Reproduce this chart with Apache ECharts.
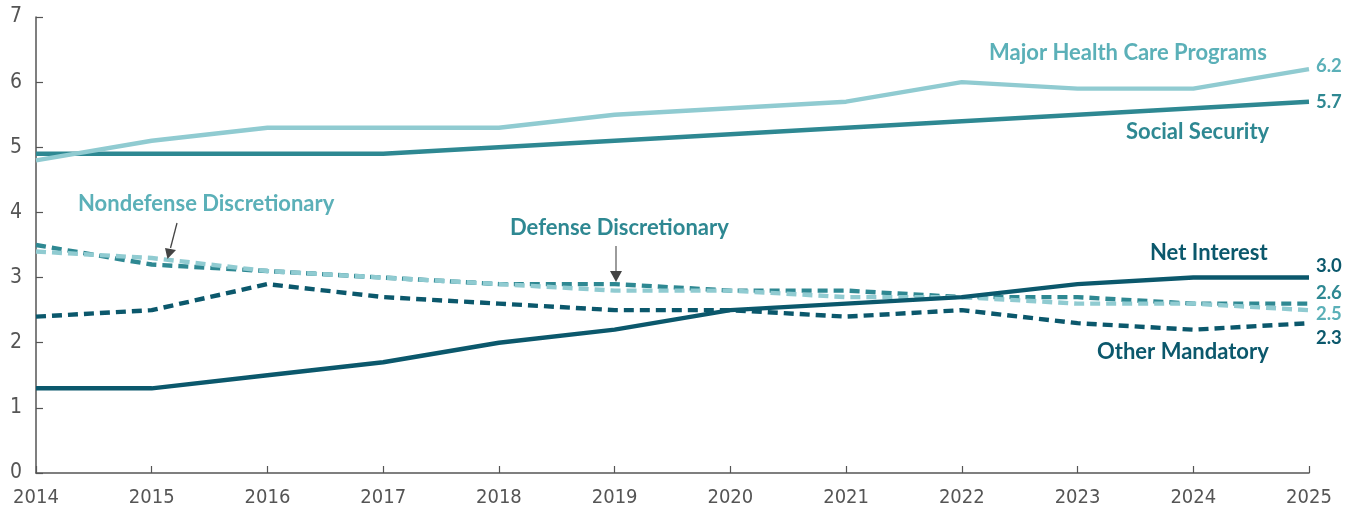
<!DOCTYPE html>
<html><head><meta charset="utf-8">
<script src="https://cdn.jsdelivr.net/npm/echarts@6/dist/echarts.min.js"></script>
<style>html,body{margin:0;padding:0;background:#fff}#c{width:1353px;height:512px}</style>
</head><body><div id="c"></div>
<script>
const years = ['2014','2015','2016','2017','2018','2019','2020','2021','2022','2023','2024','2025'];
const yTicks = [0,1,2,3,4,5,6,7];
const majorHealth = [4.8,5.1,5.3,5.3,5.3,5.5,5.6,5.7,6.0,5.9,5.9,6.2];
const socialSecurity = [4.9,4.9,4.9,4.9,5.0,5.1,5.2,5.3,5.4,5.5,5.6,5.7];
const netInterest = [1.3,1.3,1.5,1.7,2.0,2.2,2.5,2.6,2.7,2.9,3.0,3.0];
const otherMandatory = [2.4,2.5,2.9,2.7,2.6,2.5,2.5,2.4,2.5,2.3,2.2,2.3];
const defenseDisc = [3.5,3.2,3.1,3.0,2.9,2.9,2.8,2.8,2.7,2.7,2.6,2.6];
const nondefenseDisc = [3.4,3.3,3.1,3.0,2.9,2.8,2.8,2.7,2.7,2.6,2.6,2.5];

const C_LIGHT = '#90cbd1', C_LIGHT_TXT = '#5bb0b8', C_MID = '#2e8892', C_DARK = '#0b586c';
const LBL_FONT = 'Lato, "Open Sans", sans-serif';
const AX_FONT = '"Liberation Sans Narrow", "DejaVu Sans Condensed", sans-serif';

function mk(name, data, color, dashed, lblColor, offY, z) {
  return {
    name, type: 'line', data, symbol: 'none', z: z,
    lineStyle: { color, width: 4.4, type: dashed ? [10, 6] : 'solid', cap: 'butt' },
    endLabel: {
      show: true, formatter: p => Number(p.value).toFixed(1),
      color: lblColor, fontWeight: 'bold', fontSize: 18.5, fontFamily: LBL_FONT,
      distance: 7, offset: [0, offY]
    },
    emphasis: { disabled: true }, silent: true, animation: false
  };
}

const chart = echarts.init(document.getElementById('c'));
chart.setOption({
  animation: false,
  grid: { left: 36, right: 44, top: 17, bottom: 39, containLabel: false },
  xAxis: {
    type: 'category', data: years, boundaryGap: false,
    axisLine: { lineStyle: { color: '#555', width: 1.5 } },
    axisTick: { inside: true, length: 7, lineStyle: { color: '#555', width: 1.2 } },
    axisLabel: { color: '#555', fontSize: 20, fontFamily: AX_FONT, margin: 15 }
  },
  yAxis: {
    type: 'value', min: yTicks[0], max: yTicks[yTicks.length - 1], interval: 1,
    splitLine: { show: false },
    axisLine: { show: true, lineStyle: { color: '#555', width: 1.5 } },
    axisTick: { show: true, inside: true, length: 7, lineStyle: { color: '#555', width: 1.2 } },
    axisLabel: { color: '#555', fontSize: 21, fontFamily: AX_FONT, margin: 14 }
  },
  series: [
    mk('Social Security', socialSecurity, C_MID, false, C_MID, 0, 3),
    mk('Major Health Care Programs', majorHealth, C_LIGHT, false, C_LIGHT_TXT, -3, 4),
    mk('Other Mandatory', otherMandatory, C_DARK, true, C_DARK, 15, 2),
    mk('Defense Discretionary', defenseDisc, C_MID, true, C_MID, -11, 2),
    mk('Nondefense Discretionary', nondefenseDisc, C_LIGHT, true, C_LIGHT_TXT, 4, 3),
    mk('Net Interest', netInterest, C_DARK, false, C_DARK, -12, 5)
  ],
  graphic: [
    { type: 'text', left: 989, top: 42, style: { text: 'Major Health Care Programs', fill: C_LIGHT_TXT, font: 'bold 22px ' + LBL_FONT } },
    { type: 'text', left: 1126, top: 121, style: { text: 'Social Security', fill: C_MID, font: 'bold 22px ' + LBL_FONT } },
    { type: 'text', left: 1150, top: 242, style: { text: 'Net Interest', fill: C_DARK, font: 'bold 22px ' + LBL_FONT } },
    { type: 'text', left: 1097, top: 341, style: { text: 'Other Mandatory', fill: C_DARK, font: 'bold 22px ' + LBL_FONT } },
    { type: 'text', left: 510, top: 217, style: { text: 'Defense Discretionary', fill: C_MID, font: 'bold 22px ' + LBL_FONT } },
    { type: 'text', left: 78, top: 193, style: { text: 'Nondefense Discretionary', fill: C_LIGHT_TXT, font: 'bold 22px ' + LBL_FONT } },
    { type: 'line', shape: { x1: 177, y1: 223, x2: 170.5, y2: 248 }, style: { stroke: '#444', lineWidth: 1.3 }, z: 10 },
    { type: 'polygon', shape: { points: [[165, 248], [176, 250], [167.5, 259]] }, style: { fill: '#444' }, z: 10 },
    { type: 'line', shape: { x1: 616, y1: 246, x2: 616, y2: 272 }, style: { stroke: '#666', lineWidth: 1.3 }, z: 10 },
    { type: 'polygon', shape: { points: [[610, 271], [622, 271], [616, 282]] }, style: { fill: '#444' }, z: 10 }
  ]
});
</script></body></html>
